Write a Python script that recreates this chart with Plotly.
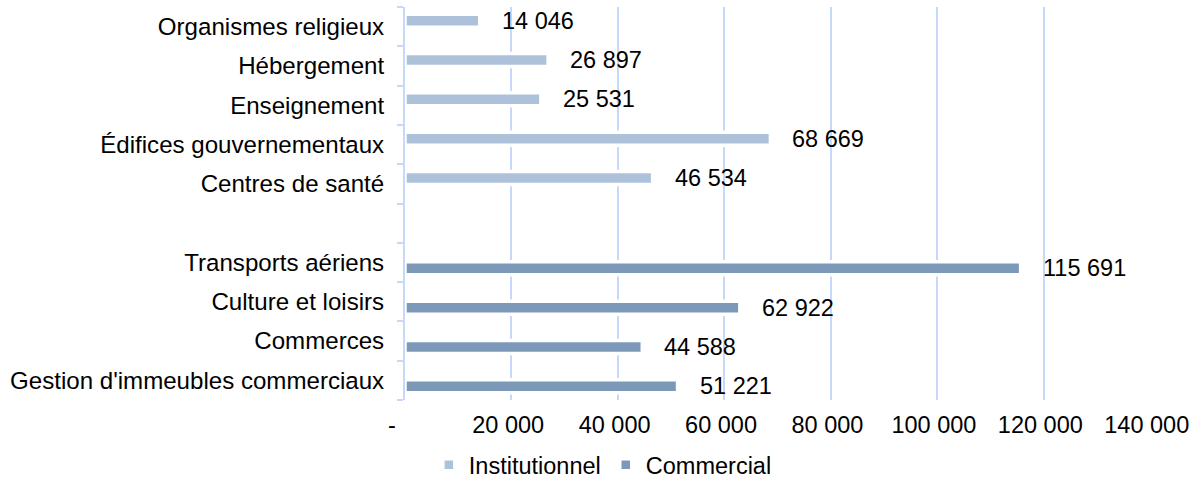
import plotly.graph_objects as go

# Categories listed bottom-to-top (Plotly draws categorical y upward)
categories = [
    "Gestion d'immeubles commerciaux",
    "Commerces",
    "Culture et loisirs",
    "Transports aériens",
    " ",
    "Centres de santé",
    "Édifices gouvernementaux",
    "Enseignement",
    "Hébergement",
    "Organismes religieux",
]
institutionnel = [None, None, None, None, None, 46534, 68669, 25531, 26897, 14046]
commercial = [51221, 44588, 62922, 115691, None, None, None, None, None, None]

tick_vals = [0, 20000, 40000, 60000, 80000, 100000, 120000, 140000]
tick_text = ["-\u00a0\u00a0\u00a0\u00a0", "20 000\u00a0", "40 000\u00a0", "60 000\u00a0",
             "80 000\u00a0", "100 000\u00a0", "120 000\u00a0", "140 000\u00a0"]

COL_INST = "#ADC2DA"
COL_COMM = "#7C99BA"
GRID = "#C6D9FA"
FONT = "Liberation Sans, Arial, sans-serif"
FS = 23.5
FS_CAT = 24.1

# bar thickness / placement within each category row (in category units)
BAR_W = 0.33
OUTLINE = 3.5


def fmt(v):
    return f"{v:,}".replace(",", " ")


fig = go.Figure()
fig.add_trace(go.Bar(
    y=categories, x=commercial, orientation="h", name="Commercial",
    width=BAR_W, offset=-0.315,
    marker=dict(color=COL_COMM, line=dict(color="white", width=OUTLINE)),
    legendrank=2,
))
fig.add_trace(go.Bar(
    y=categories, x=institutionnel, orientation="h", name="Institutionnel",
    width=BAR_W, offset=-0.015,
    marker=dict(color=COL_INST, line=dict(color="white", width=OUTLINE)),
    legendrank=1,
))

annotations = []
for cat, v in zip(categories, institutionnel):
    if v is not None:
        annotations.append(dict(x=v, y=cat, text=fmt(v), showarrow=False,
                                xanchor="left", yanchor="middle", xshift=20, yshift=6,
                                font=dict(family=FONT, size=FS, color="#000000")))
for cat, v in zip(categories, commercial):
    if v is not None:
        annotations.append(dict(x=v, y=cat, text=fmt(v), showarrow=False,
                                xanchor="left", yanchor="middle", xshift=20, yshift=-6,
                                font=dict(family=FONT, size=FS, color="#000000")))

fig.update_layout(
    width=1196, height=478,
    margin=dict(l=405, r=46, t=7, b=78),
    paper_bgcolor="white", plot_bgcolor="white",
    barmode="overlay",
    font=dict(family=FONT, size=FS, color="#000000"),
    annotations=annotations,
    showlegend=True,
    legend=dict(orientation="h", x=0.032, xanchor="left",
                yref="container", y=0.027, yanchor="middle",
                font=dict(family=FONT, size=FS, color="#000000"),
                itemwidth=30, traceorder="normal"),
    xaxis=dict(range=[0, 140000], tickvals=tick_vals, ticktext=tick_text,
               showgrid=True, gridcolor=GRID, gridwidth=2, zeroline=False,
               showline=False, ticks="", automargin=False, ticklabelstandoff=8,
               tickfont=dict(size=FS, color="#000000")),
    yaxis=dict(type="category", categoryorder="array", categoryarray=categories,
               range=[-0.5, len(categories) - 0.5],
               showgrid=False, showline=True, linecolor=GRID, linewidth=2,
               ticks="outside", tickson="boundaries", ticklen=6, tickcolor=GRID,
               tickwidth=2, ticklabelstandoff=14, automargin=False,
               tickfont=dict(size=FS_CAT, color="#000000")),
)

fig.write_html("out.html")
